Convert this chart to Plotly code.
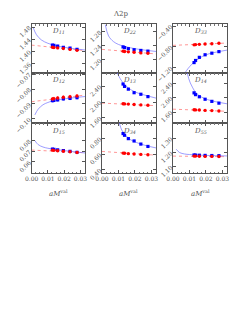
import plotly.graph_objects as go
from plotly.subplots import make_subplots

# ---------------- data ----------------
x_pts = [0.0128, 0.0137, 0.0160, 0.0195, 0.0236, 0.0279]
x_ticks = [0.00, 0.01, 0.02, 0.03]
panel_names = ["D<sub>11</sub>", "D<sub>22</sub>", "D<sub>33</sub>",
               "D<sub>12</sub>", "D<sub>13</sub>", "D<sub>14</sub>",
               "D<sub>15</sub>", "D<sub>34</sub>", "D<sub>55</sub>"]

# D11
d11_blue = [1.421, 1.420, 1.418, 1.414, 1.411, 1.407]
d11_red = [1.414, 1.413, 1.412, 1.410, 1.407, 1.404]
d11_err = [0.004, 0.004, 0.004, 0.004, 0.004, 0.004]
d11_fit_x = [0.001, 0.003, 0.006, 0.010, 0.015, 0.020, 0.025, 0.033]
d11_fit_y = [1.478, 1.455, 1.438, 1.427, 1.419, 1.414, 1.410, 1.405]
d11_lin_y = [1.421, 1.403]
d11_ticks = [1.36, 1.40, 1.44, 1.48]
# D22
d22_blue = [1.237, 1.235, 1.232, 1.229, 1.227, 1.225]
d22_red = [1.225, 1.224, 1.223, 1.222, 1.220, 1.219]
d22_err = [0.003, 0.003, 0.003, 0.003, 0.003, 0.003]
d22_fit_x = [0.002, 0.004, 0.007, 0.010, 0.014, 0.020, 0.026, 0.033]
d22_fit_y = [1.300, 1.268, 1.252, 1.244, 1.238, 1.232, 1.228, 1.224]
d22_lin_y = [1.230, 1.217]
d22_ticks = [1.20, 1.24, 1.28]
# D33
d33_blue = [-1.10, -1.06, -1.00, -0.95, -0.92, -0.89]
d33_red = [-0.76, -0.755, -0.75, -0.745, -0.74, -0.73]
d33_err = [0.012, 0.012, 0.012, 0.012, 0.012, 0.012]
d33_fit_x = [0.0072, 0.009, 0.0115, 0.014, 0.018, 0.022, 0.027, 0.033]
d33_fit_y = [-1.30, -1.22, -1.13, -1.06, -0.98, -0.93, -0.895, -0.86]
d33_lin_y = [-0.77, -0.725]
d33_ticks = [-1.20, -0.80, -0.40]
# D12
d12_blue = [-0.0878, -0.0876, -0.0872, -0.0866, -0.0862, -0.0858]
d12_red = [-0.0866, -0.0864, -0.0860, -0.0855, -0.0851, -0.0846]
d12_err = [0.0012, 0.0012, 0.0012, 0.0012, 0.0012, 0.0012]
d12_fit_x = [0.002, 0.004, 0.007, 0.010, 0.014, 0.020, 0.026, 0.033]
d12_fit_y = [-0.0973, -0.0935, -0.0905, -0.0890, -0.0876, -0.0866, -0.0858, -0.0850]
d12_lin_y = [-0.0885, -0.0840]
d12_ticks = [-0.10, -0.09, -0.08, -0.07]
# D13
d13_blue = [2.46, 2.40, 2.33, 2.24, 2.20, 2.14]
d13_red = [1.96, 1.955, 1.95, 1.94, 1.93, 1.92]
d13_err = [0.02, 0.02, 0.02, 0.02, 0.02, 0.02]
d13_fit_x = [0.0093, 0.011, 0.013, 0.016, 0.020, 0.025, 0.033]
d13_fit_y = [2.74, 2.60, 2.48, 2.36, 2.26, 2.19, 2.10]
d13_lin_y = [1.975, 1.91]
d13_ticks = [1.60, 2.00, 2.40]
# D14
d14_blue = [2.14, 2.09, 2.03, 1.96, 1.90, 1.85]
d14_red = [1.665, 1.66, 1.655, 1.645, 1.64, 1.63]
d14_err = [0.02, 0.02, 0.02, 0.02, 0.02, 0.02]
d14_fit_x = [0.0087, 0.0095, 0.0105, 0.012, 0.014, 0.017, 0.021, 0.026, 0.033]
d14_fit_y = [2.70, 2.55, 2.42, 2.28, 2.14, 2.03, 1.95, 1.89, 1.83]
d14_lin_y = [1.68, 1.62]
d14_ticks = [1.60, 2.00, 2.40]
# D15
d15_blue = [0.0722, 0.0720, 0.0715, 0.0708, 0.0700, 0.0692]
d15_red = [0.0712, 0.0710, 0.0707, 0.0702, 0.0697, 0.0690]
d15_err = [0.0008, 0.0008, 0.0008, 0.0008, 0.0008, 0.0008]
d15_fit_x = [0.002, 0.004, 0.007, 0.010, 0.014, 0.020, 0.026, 0.033]
d15_fit_y = [0.0803, 0.0765, 0.0742, 0.0730, 0.0720, 0.0708, 0.0697, 0.0685]
d15_lin_y = [0.0713, 0.0687]
d15_ticks = [0.06, 0.07, 0.08]
# D34
d34_blue = [0.865, 0.843, 0.80, 0.77, 0.73, 0.70]
d34_red = [0.615, 0.612, 0.608, 0.603, 0.598, 0.594]
d34_err = [0.008, 0.008, 0.008, 0.008, 0.008, 0.008]
d34_fit_x = [0.0105, 0.012, 0.014, 0.017, 0.021, 0.026, 0.033]
d34_fit_y = [1.00, 0.91, 0.85, 0.79, 0.75, 0.715, 0.68]
d34_lin_y = [0.636, 0.588]
d34_ticks = [0.40, 0.60, 0.80]
# D55
d55_blue = [1.183, 1.182, 1.181, 1.180, 1.179, 1.178]
d55_red = [1.175, 1.175, 1.174, 1.173, 1.173, 1.172]
d55_err = [0.004, 0.004, 0.004, 0.004, 0.004, 0.004]
d55_fit_x = [0.002, 0.004, 0.007, 0.010, 0.014, 0.020, 0.026, 0.033]
d55_fit_y = [1.223, 1.200, 1.190, 1.186, 1.183, 1.180, 1.178, 1.176]
d55_lin_y = [1.175, 1.171]
d55_ticks = [1.10, 1.20, 1.30]

y_ranges = [[1.33, 1.49], [1.163, 1.302], [-1.30, -0.36],
            [-0.1027, -0.0693], [1.47, 2.74], [1.29, 2.70],
            [0.0495, 0.097], [0.36, 1.0], [1.056, 1.408]]
x_range = [0.0, 0.0328]
lin_x = [0.0, 0.033]

blues = [d11_blue, d22_blue, d33_blue, d12_blue, d13_blue, d14_blue, d15_blue, d34_blue, d55_blue]
reds = [d11_red, d22_red, d33_red, d12_red, d13_red, d14_red, d15_red, d34_red, d55_red]
errs = [d11_err, d22_err, d33_err, d12_err, d13_err, d14_err, d15_err, d34_err, d55_err]
fit_xs = [d11_fit_x, d22_fit_x, d33_fit_x, d12_fit_x, d13_fit_x, d14_fit_x, d15_fit_x, d34_fit_x, d55_fit_x]
fit_ys = [d11_fit_y, d22_fit_y, d33_fit_y, d12_fit_y, d13_fit_y, d14_fit_y, d15_fit_y, d34_fit_y, d55_fit_y]
lin_ys = [d11_lin_y, d22_lin_y, d33_lin_y, d12_lin_y, d13_lin_y, d14_lin_y, d15_lin_y, d34_lin_y, d55_lin_y]
ticks = [d11_ticks, d22_ticks, d33_ticks, d12_ticks, d13_ticks, d14_ticks, d15_ticks, d34_ticks, d55_ticks]

# ---------------- figure ----------------
# the page body has an 8px default margin; the figure is drawn inside it
OFF = 8
W, H = 241 - OFF, 312 - OFF
FONT = "DejaVu Serif"
TXT = "#555555"
fig = make_subplots(rows=3, cols=3)

col_px = [(31.6, 85.0), (102.0, 156.0), (173.0, 227.0)]
row_px = [(24.0, 73.0), (73.0, 123.0), (123.0, 173.0)]


def px_x(p):
    return (p - OFF) / W


def px_y(p):
    return 1 - (p - OFF) / H


for i in range(9):
    r, c = i // 3, i % 3
    row, col = r + 1, c + 1
    fig.add_trace(go.Scatter(x=lin_x, y=lin_ys[i], mode="lines",
                             line=dict(color="rgba(255,90,90,0.8)", width=0.8, dash="dot"),
                             showlegend=False, hoverinfo="skip"), row=row, col=col)
    fig.add_trace(go.Scatter(x=fit_xs[i], y=fit_ys[i], mode="lines",
                             line=dict(color="rgba(110,110,255,0.85)", width=0.8, shape="spline"),
                             showlegend=False, hoverinfo="skip"), row=row, col=col)
    fig.add_trace(go.Scatter(x=x_pts, y=blues[i], mode="markers",
                             marker=dict(symbol="square", size=3.2, color="#0000ff"),
                             error_y=dict(type="data", array=errs[i], color="#6060ff", thickness=0.8, width=0),
                             showlegend=False), row=row, col=col)
    fig.add_trace(go.Scatter(x=x_pts, y=reds[i], mode="markers",
                             marker=dict(symbol="circle", size=3.4, color="#ff0000"),
                             error_y=dict(type="data", array=errs[i], color="#ff6060", thickness=0.8, width=0),
                             showlegend=False), row=row, col=col)
    x0, x1 = col_px[c]
    y0, y1 = row_px[r]
    fig.update_xaxes(domain=[px_x(x0), px_x(x1)], range=x_range, tickvals=x_ticks,
                     tickformat=".2f", showticklabels=(r == 2), automargin=False,
                     ticks="inside", ticklen=3, tickcolor="#555", mirror="allticks",
                     minor=dict(ticks="inside", ticklen=1.5, dtick=0.0025, tickcolor="#777"),
                     showline=True, linecolor="#555", linewidth=1, showgrid=False, zeroline=False,
                     tickfont=dict(family=FONT, size=6, color=TXT), row=row, col=col)
    fig.update_yaxes(domain=[px_y(y1), px_y(y0)], range=y_ranges[i], tickvals=ticks[i],
                     tickformat=".2f", tickangle=-45, automargin=False,
                     ticks="inside", ticklen=3, tickcolor="#555", mirror="allticks",
                     showline=True, linecolor="#555", linewidth=1, showgrid=False, zeroline=False,
                     tickfont=dict(family=FONT, size=6, color=TXT), row=row, col=col)
    xa = "x" if i == 0 else "x%d" % (i + 1)
    ya = "y" if i == 0 else "y%d" % (i + 1)
    fig.add_annotation(x=0.5, y=0.97, xref=xa + " domain", yref=ya + " domain",
                       text="<i>" + panel_names[i] + "</i>", showarrow=False,
                       xanchor="center", yanchor="top",
                       font=dict(family=FONT, size=7, color=TXT))

for c in range(3):
    x0, x1 = col_px[c]
    fig.add_annotation(x=px_x((x0 + x1) / 2), y=px_y(193), xref="paper", yref="paper",
                       text="<i>aM</i><sup>val</sup>", showarrow=False,
                       xanchor="center", yanchor="middle",
                       font=dict(family=FONT, size=7, color=TXT))

fig.add_annotation(x=px_x(120.5), y=px_y(14), xref="paper", yref="paper", text="Λ2p",
                   showarrow=False, xanchor="center", yanchor="middle",
                   font=dict(family=FONT, size=7, color=TXT))

fig.update_layout(width=W, height=H, margin=dict(l=0, r=0, t=0, b=0, autoexpand=False),
                  paper_bgcolor="white", plot_bgcolor="white", showlegend=False)

fig.write_html("out.html")
